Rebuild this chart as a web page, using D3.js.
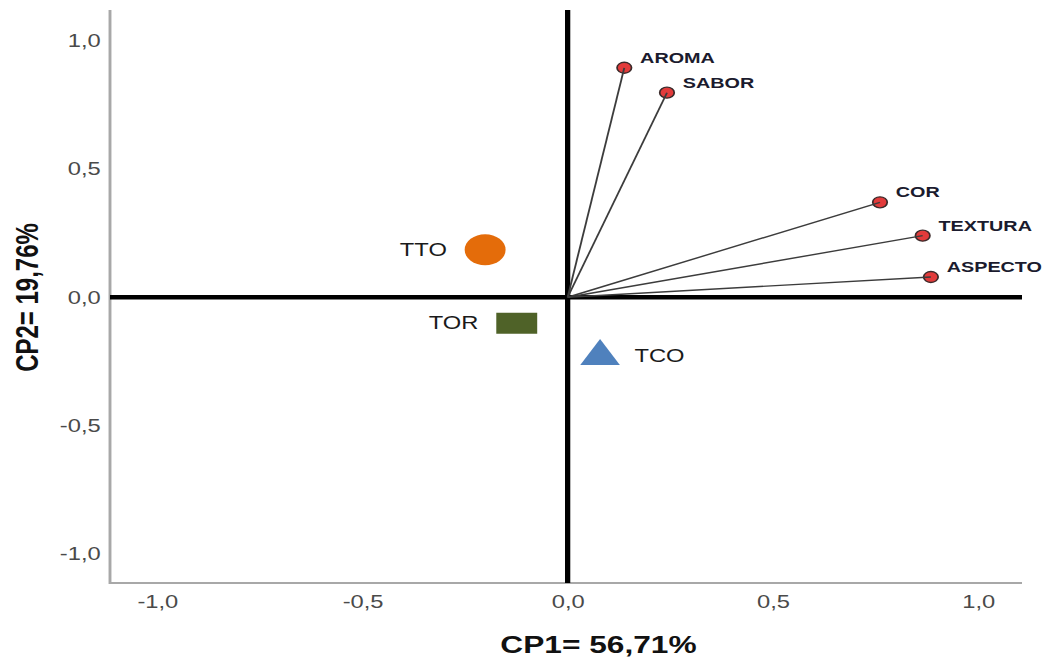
<!DOCTYPE html>
<html>
<head>
<meta charset="utf-8">
<script src="https://cdn.jsdelivr.net/npm/d3@7"></script>
<style>
  body { margin: 0; background: #fff; }
  svg { display: block; font-family: Arial, "Liberation Sans", sans-serif; }
</style>
</head>
<body>
<div id="chart"></div>
<script>
// variable loadings (CP1, CP2)
const variables = ["AROMA", "SABOR", "COR", "TEXTURA", "ASPECTO"];
const varCP1 = [0.138, 0.242, 0.761, 0.865, 0.885];
const varCP2 = [0.894, 0.797, 0.370, 0.240, 0.079];

// treatment scores
const treatments = ["TTO", "TOR", "TCO"];
const trtCP1 = [-0.201, -0.124, 0.079];
const trtCP2 = [0.185, -0.101, -0.230];
const trtShape = ["circle", "square", "triangle"];
const trtColor = ["#e46c0a", "#4f6228", "#4f81bd"];
const trtLabelSide = ["left", "left", "right"];

const tickValues = [-1.0, -0.5, 0.0, 0.5, 1.0];
const xTitle = "CP1= 56,71%";
const yTitle = "CP2= 19,76%";

const width = 1049;
const height = 657;
// the original picture is stretched sideways, so everything is drawn in a narrower space and scaled
const sx = 1.32;

const svg = d3.select("#chart")
    .append("svg")
    .attr("width", width)
    .attr("height", height)
    .attr("viewBox", [0, 0, width, height]);

const g = svg.append("g").attr("transform", `scale(${sx},1)`);

const plotLeft = 110 / sx, plotRight = 1022 / sx, plotTop = 10, plotBottom = 583;

const x = d3.scaleLinear([-1.115, 1.107], [plotLeft, plotRight]);
const y = d3.scaleLinear([-1.113, 1.119], [plotBottom, plotTop]);

const fmt = d => d3.format(".1f")(d).replace(".", ",").replace("−", "-");

// y axis
g.append("g")
    .attr("transform", `translate(${plotLeft},0)`)
    .call(d3.axisLeft(y).tickValues(tickValues).tickSize(0).tickPadding(7).tickFormat(fmt))
    .call(a => a.select(".domain").remove())
    .call(a => a.selectAll("text")
        .attr("font-size", 18)
        .attr("font-family", "Arial, 'Liberation Sans', sans-serif")
        .attr("fill", "#4a4a4a"));

// x axis
g.append("g")
    .attr("transform", `translate(0,${plotBottom})`)
    .call(d3.axisBottom(x).tickValues(tickValues).tickSize(0).tickPadding(12).tickFormat(fmt))
    .call(a => a.select(".domain").remove())
    .call(a => a.selectAll("text")
        .attr("font-size", 18)
        .attr("font-family", "Arial, 'Liberation Sans', sans-serif")
        .attr("fill", "#4a4a4a"));

// frame lines (left and bottom only)
g.append("path")
    .attr("d", `M${plotLeft},${plotTop}V${plotBottom}H${plotRight}`)
    .attr("fill", "none")
    .attr("stroke", "#a8a8a8")
    .attr("stroke-width", 2.2);

// zero lines
g.append("line")
    .attr("x1", x(0)).attr("x2", x(0))
    .attr("y1", plotTop).attr("y2", plotBottom)
    .attr("stroke", "#000").attr("stroke-width", 4);
g.append("line")
    .attr("x1", plotLeft).attr("x2", plotRight)
    .attr("y1", y(0)).attr("y2", y(0))
    .attr("stroke", "#000").attr("stroke-width", 4.5);

// variable points, then the vectors on top
g.selectAll(".vpt")
    .data(variables)
    .join("circle")
    .attr("class", "vpt")
    .attr("cx", (d, i) => x(varCP1[i]))
    .attr("cy", (d, i) => y(varCP2[i]))
    .attr("r", 5.5)
    .attr("fill", "#e23b3b")
    .attr("stroke", "#3a2a2a")
    .attr("stroke-width", 1.3);

g.selectAll(".vline")
    .data(variables)
    .join("line")
    .attr("class", "vline")
    .attr("x1", x(0)).attr("y1", y(0))
    .attr("x2", (d, i) => x(varCP1[i]))
    .attr("y2", (d, i) => y(varCP2[i]))
    .attr("stroke", "#3c3c3c")
    .attr("stroke-width", 1.4);

g.selectAll(".vlab")
    .data(variables)
    .join("text")
    .attr("class", "vlab")
    .attr("x", (d, i) => x(varCP1[i]) + 12)
    .attr("y", (d, i) => y(varCP2[i]) - 5)
    .attr("font-size", 15)
    .attr("font-weight", "bold")
    .attr("fill", "#1b1b2e")
    .text(d => d);

// treatment markers
const shapes = { circle: d3.symbolCircle, square: d3.symbolSquare, triangle: d3.symbolTriangle };
g.selectAll(".tmark")
    .data(treatments)
    .join("path")
    .attr("class", "tmark")
    .attr("transform", (d, i) => `translate(${x(trtCP1[i])},${y(trtCP2[i])})`)
    .attr("d", (d, i) => {
        if (trtShape[i] === "square") return "M-15.5,-10.5H15.5V10.5H-15.5Z";
        const size = trtShape[i] === "circle" ? Math.PI * 15.5 * 15.5 : Math.sqrt(3) / 4 * 30 * 30;
        return d3.symbol(shapes[trtShape[i]], size)();
    })
    .attr("fill", (d, i) => trtColor[i]);

g.selectAll(".tlab")
    .data(treatments)
    .join("text")
    .attr("class", "tlab")
    .attr("x", (d, i) => x(trtCP1[i]) + (trtLabelSide[i] === "left" ? -29 : 26))
    .attr("y", (d, i) => y(trtCP2[i]) + 6)
    .attr("text-anchor", (d, i) => trtLabelSide[i] === "left" ? "end" : "start")
    .attr("font-size", 18)
    .attr("fill", "#1a1a1a")
    .text(d => d);

// axis titles
g.append("text")
    .attr("x", 598.5 / sx)
    .attr("y", 653)
    .attr("text-anchor", "middle")
    .attr("font-size", 24)
    .attr("font-weight", "bold")
    .attr("fill", "#111")
    .text(xTitle);

g.append("text")
    .attr("transform", `translate(${38 / sx},${297.5}) rotate(-90)`)
    .attr("text-anchor", "middle")
    .attr("font-size", 24)
    .attr("font-weight", "bold")
    .attr("fill", "#111")
    .text(yTitle);
</script>
</body>
</html>
